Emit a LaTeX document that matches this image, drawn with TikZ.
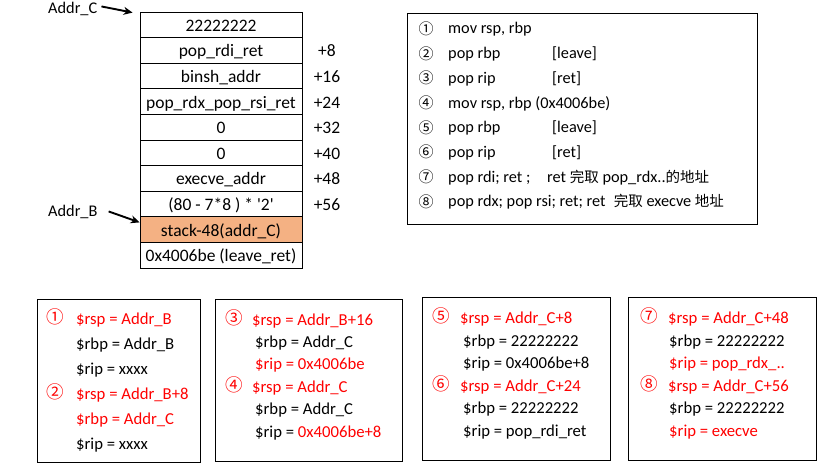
\documentclass[tikz,border=0pt]{standalone}
\usepackage{fontspec}
\setmainfont{Carlito}
\newfontfamily\cjk{Noto Sans CJK SC}
\usetikzlibrary{arrows.meta}
\definecolor{cellorange}{RGB}{244,177,131}
\definecolor{redtxt}{RGB}{255,0,0}
\newcommand{\cj}[1]{{\cjk\fontsize{14.5}{16}\selectfont #1}}
\begin{document}
\begin{tikzpicture}[x=1pt,y=1pt,
  cell/.style={draw=black, line width=0.8pt, minimum width=162pt, minimum height=25.6pt,
    inner sep=0pt, text height=13pt, text depth=0pt, font=\fontsize{17.5}{18}\selectfont},
  offs/.style={inner sep=0pt, text height=13pt, text depth=0pt, font=\fontsize{17.5}{18}\selectfont},
  frame/.style={draw=black, line width=0.8pt, inner sep=0pt},
  lbl/.style={anchor=base west, inner sep=0pt, font=\fontsize{16.3}{18}\selectfont},
  txt/.style={anchor=base west, inner sep=0pt, font=\fontsize{16.7}{18}\selectfont},
  rtxt/.style={txt, text=redtxt},
  circ/.style={anchor=base, inner sep=0pt, yshift=-0.5pt, font=\cjk\fontsize{15}{16}\selectfont},
  rcirc/.style={anchor=base, inner sep=0pt, yshift=1pt, text=redtxt, font=\cjk\fontsize{17.5}{18}\selectfont},
  arr/.style={-{Stealth[length=9pt,width=8pt]}, line width=1.9pt}
]
\useasboundingbox (0,0) rectangle (827,-473);

% stack
\node[cell] (s1)  at (221,-24.8)  {22222222};
\node[cell] (s2)  at (221,-50.4)  {pop\_rdi\_ret};
\node[cell] (s3)  at (221,-76.0)  {binsh\_addr};
\node[cell] (s4)  at (221,-101.6) {pop\_rdx\_pop\_rsi\_ret};
\node[cell] (s5)  at (221,-127.2) {0};
\node[cell] (s6)  at (221,-152.8) {0};
\node[cell] (s7)  at (221,-178.4) {execve\_addr};
\node[cell] (s8)  at (221,-204.0) {(80 - 7*8 ) * \textquotesingle 2\textquotesingle};
\node[cell, fill=cellorange] (s9) at (221,-229.6) {stack-48(addr\_C)};
\node[cell] (s10) at (221,-255.2) {0x4006be (leave\_ret)};

\node[offs] (o2) at (327,-50.4)  {+8};
\node[offs] (o3) at (327,-76.0)  {+16};
\node[offs] (o4) at (327,-101.6) {+24};
\node[offs] (o5) at (327,-127.2) {+32};
\node[offs] (o6) at (327,-152.8) {+40};
\node[offs] (o7) at (327,-178.4) {+48};
\node[offs] (o8) at (327,-204.0) {+56};

\node[lbl] (addrC) at (48,-14) {Addr\_C};
\node[lbl] (addrB) at (48,-216) {Addr\_B};
\draw[arr] ([xshift=4pt,yshift=3pt]addrC.east) -- ([xshift=-7pt,yshift=-1pt]s1.north west);
\draw[arr] ([xshift=11pt]addrB.east) -- ([yshift=-6pt]s9.north west);

% instruction box
\node[frame, minimum width=350pt, minimum height=211pt] (ibox) at (582,-118.5) {};
\node[circ] (c1) at (426,-34.0)  {①};
\node[circ] (c2) at (426,-58.7)  {②};
\node[circ] (c3) at (426,-83.4)  {③};
\node[circ] (c4) at (426,-108.1) {④};
\node[circ] (c5) at (426,-132.8) {⑤};
\node[circ] (c6) at (426,-157.5) {⑥};
\node[circ] (c7) at (426,-182.2) {⑦};
\node[circ] (c8) at (426,-206.9) {⑧};
\node[lbl] (i1) at (448,-34.0)  {mov rsp, rbp};
\node[lbl] (i2) at (448,-58.7)  {pop rbp};
\node[lbl] (i2b) at (552,-58.7) {[leave]};
\node[lbl] (i3) at (448,-83.4)  {pop rip};
\node[lbl] (i3b) at (552,-83.4) {[ret]};
\node[lbl] (i4) at (448,-108.1) {mov rsp, rbp (0x4006be)};
\node[lbl] (i5) at (448,-132.8) {pop rbp};
\node[lbl] (i5b) at (552,-132.8) {[leave]};
\node[lbl] (i6) at (448,-157.5) {pop rip};
\node[lbl] (i6b) at (552,-157.5) {[ret]};
\node[lbl] (i7) at (448,-182.2) {pop rdi; ret ;};
\node[lbl] (i7b) at (547,-182.2) {ret \cj{完取} pop\_rdx..\cj{的地址}};
\node[lbl] (i8) at (448,-206.9) {pop rdx; pop rsi; ret; ret\enspace\cj{完取} execve \cj{地址}};

% box 1
\node[frame, minimum width=163pt, minimum height=163pt] (box1) at (118.5,-380.5) {};
\node[rcirc] (b1c1) at (55,-324) {①};
\node[rtxt] (b1a) at (76,-324) {\$rsp = Addr\_B};
\node[txt]  (b1b) at (76,-349) {\$rbp = Addr\_B};
\node[txt]  (b1c) at (76,-374) {\$rip = xxxx};
\node[rcirc] (b1c2) at (55,-399) {②};
\node[rtxt] (b1d) at (76,-399) {\$rsp = Addr\_B+8};
\node[rtxt] (b1e) at (76,-424) {\$rbp = Addr\_C};
\node[txt]  (b1f) at (76,-449) {\$rip = xxxx};

% box 2
\node[frame, minimum width=187pt, minimum height=162pt] (box2) at (308.5,-380) {};
\node[rcirc] (b2c1) at (234,-325) {③};
\node[rtxt] (b2a) at (252,-325)   {\$rsp = Addr\_B+16};
\node[txt]  (b2b) at (255,-347.4) {\$rbp = Addr\_C};
\node[rtxt] (b2c) at (255,-369.8) {\$rip = 0x4006be};
\node[rcirc] (b2c2) at (234,-392.2) {④};
\node[rtxt] (b2d) at (252,-392.2) {\$rsp = Addr\_C};
\node[txt]  (b2e) at (255,-414.6) {\$rbp = Addr\_C};
\node[txt]  (b2f) at (255,-437)   {\$rip = \textcolor{redtxt}{0x4006be+8}};

% box 3
\node[frame, minimum width=188pt, minimum height=163pt] (box3) at (516,-378.5) {};
\node[rcirc] (b3c1) at (441,-323.5) {⑤};
\node[rtxt] (b3a) at (460,-323.5) {\$rsp = Addr\_C+8};
\node[txt]  (b3b) at (463,-346.1) {\$rbp = 22222222};
\node[txt]  (b3c) at (463,-368.7) {\$rip = 0x4006be+8};
\node[rcirc] (b3c2) at (441,-391.3) {⑥};
\node[rtxt] (b3d) at (460,-391.3) {\$rsp = Addr\_C+24};
\node[txt]  (b3e) at (463,-413.9) {\$rbp = 22222222};
\node[txt]  (b3f) at (463,-436.5) {\$rip = pop\_rdi\_ret};

% box 4
\node[frame, minimum width=188pt, minimum height=163pt] (box4) at (722,-378.5) {};
\node[rcirc] (b4c1) at (649,-323.5) {⑦};
\node[rtxt] (b4a) at (668,-323.5) {\$rsp = Addr\_C+48};
\node[txt]  (b4b) at (669,-346.1) {\$rbp = 22222222};
\node[rtxt] (b4c) at (669,-368.7) {\$rip = pop\_rdx\_..};
\node[rcirc] (b4c2) at (649,-391.3) {⑧};
\node[rtxt] (b4d) at (668,-391.3) {\$rsp = Addr\_C+56};
\node[txt]  (b4e) at (669,-413.9) {\$rbp = 22222222};
\node[rtxt] (b4f) at (669,-436.5) {\$rip = execve};
\end{tikzpicture}
\end{document}
